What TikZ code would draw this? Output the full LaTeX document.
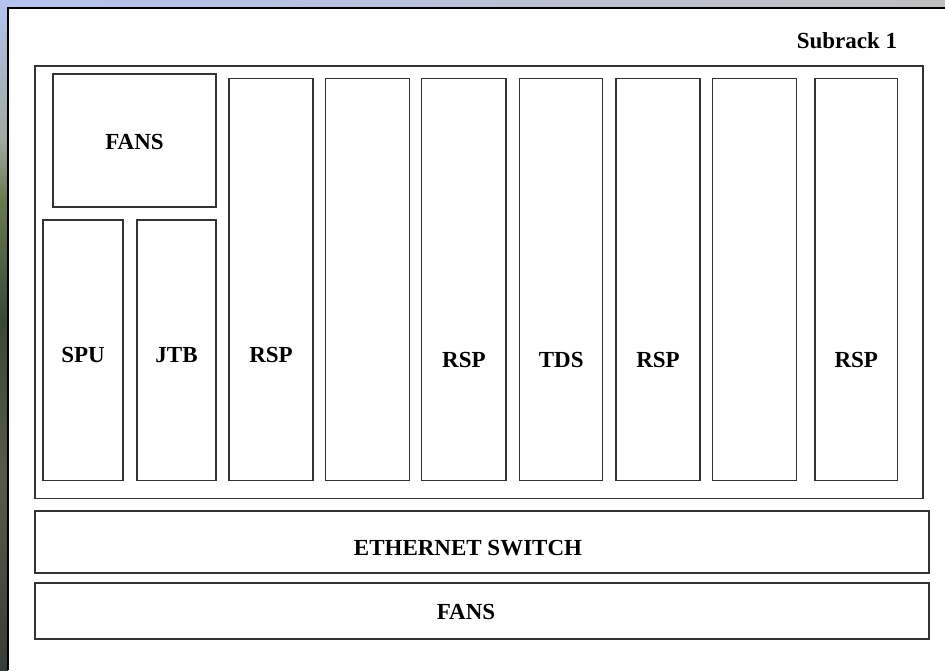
\documentclass[tikz,border=0pt]{standalone}
\usepackage{fontspec}
\setmainfont{Liberation Serif}
\usetikzlibrary{positioning}

\definecolor{skyblue}{RGB}{180, 196, 240}
\definecolor{haze}{RGB}{160, 168, 160}
\definecolor{grass}{RGB}{104, 122, 80}
\definecolor{forest}{RGB}{58, 72, 56}
\definecolor{soil}{RGB}{88, 90, 72}
\definecolor{shadow}{RGB}{56, 60, 56}

\tikzset{
	slot/.style = {draw = black!80, line width = 1.2pt, fill = white,
		inner sep = 0pt},
	lbl/.style = {font = \fontsize{23}{26}\selectfont\bfseries, inner sep = 0pt}
}

\begin{document}
\begin{tikzpicture}[x=1pt, y=-1pt]

\useasboundingbox (0, 0) rectangle (945, 670);

% desktop behind the window
\shade[left color = skyblue, right color = black!25!white]
	(0, 0) rectangle (945, 8);
\shade[top color = skyblue, bottom color = haze] (0, 0) rectangle (8, 140);
\shade[top color = haze, bottom color = grass] (0, 140) rectangle (8, 200);
\shade[top color = grass, bottom color = forest] (0, 200) rectangle (8, 320);
\shade[top color = forest, bottom color = soil] (0, 320) rectangle (8, 480);
\shade[top color = soil, bottom color = shadow] (0, 480) rectangle (8, 670);

% window
\fill[white] (8, 8) rectangle (945, 670);
\draw[line width = 1.5pt] (8, 670) -- (8, 8) -- (945, 8);

\node[lbl] (title) at (847, 41) {Subrack 1};

% subrack
\node[slot, minimum width = 888pt, minimum height = 432.5pt]
	(rack) at (479, 282.25) {};

\node[slot, minimum width = 163pt, minimum height = 133pt]
	(fansTop) at (134.5, 140.5) {};
\node[slot, minimum width = 80pt, minimum height = 260.5pt]
	(spu) at (83, 350.25) {};
\node[slot, minimum width = 79pt, minimum height = 260.5pt]
	(jtb) at (176.5, 350.25) {};

%boards start
\node[slot, minimum width = 84pt, minimum height = 402.4pt]
	(rspA) at (271, 279.5) {};
\node[slot, minimum width = 84pt, minimum height = 402.4pt]
	(emptyA) at (367.7, 279.5) {};
\node[slot, minimum width = 84.3pt, minimum height = 402.4pt]
	(rspB) at (463.9, 279.5) {};
\node[slot, minimum width = 83pt, minimum height = 402.4pt]
	(tds) at (561.2, 279.5) {};
\node[slot, minimum width = 84pt, minimum height = 402.4pt]
	(rspC) at (658, 279.5) {};
\node[slot, minimum width = 84pt, minimum height = 402.4pt]
	(emptyB) at (754.7, 279.5) {};
\node[slot, minimum width = 82.7pt, minimum height = 402.4pt]
	(rspD) at (856.3, 279.5) {};
%boards end

\node[slot, minimum width = 894pt, minimum height = 62pt]
	(switch) at (482, 542) {};
\node[slot, minimum width = 894pt, minimum height = 56pt]
	(fansBottom) at (482, 611) {};

% labels
\node[lbl] (fansTopText) at (134.5, 142) {FANS};
\node[lbl] (spuText) at (83, 355) {SPU};
\node[lbl] (jtbText) at (176.5, 355) {JTB};
\node[lbl] (rspAText) at (271, 355) {RSP};
\node[lbl] (rspBText) at (463.9, 360) {RSP};
\node[lbl] (tdsText) at (561.2, 360) {TDS};
\node[lbl] (rspCText) at (658, 360) {RSP};
\node[lbl] (rspDText) at (856.3, 360) {RSP};
\node[lbl] (switchText) at (468, 548) {ETHERNET SWITCH};
\node[lbl] (fansBottomText) at (466, 612) {FANS};

\end{tikzpicture}
\end{document}
